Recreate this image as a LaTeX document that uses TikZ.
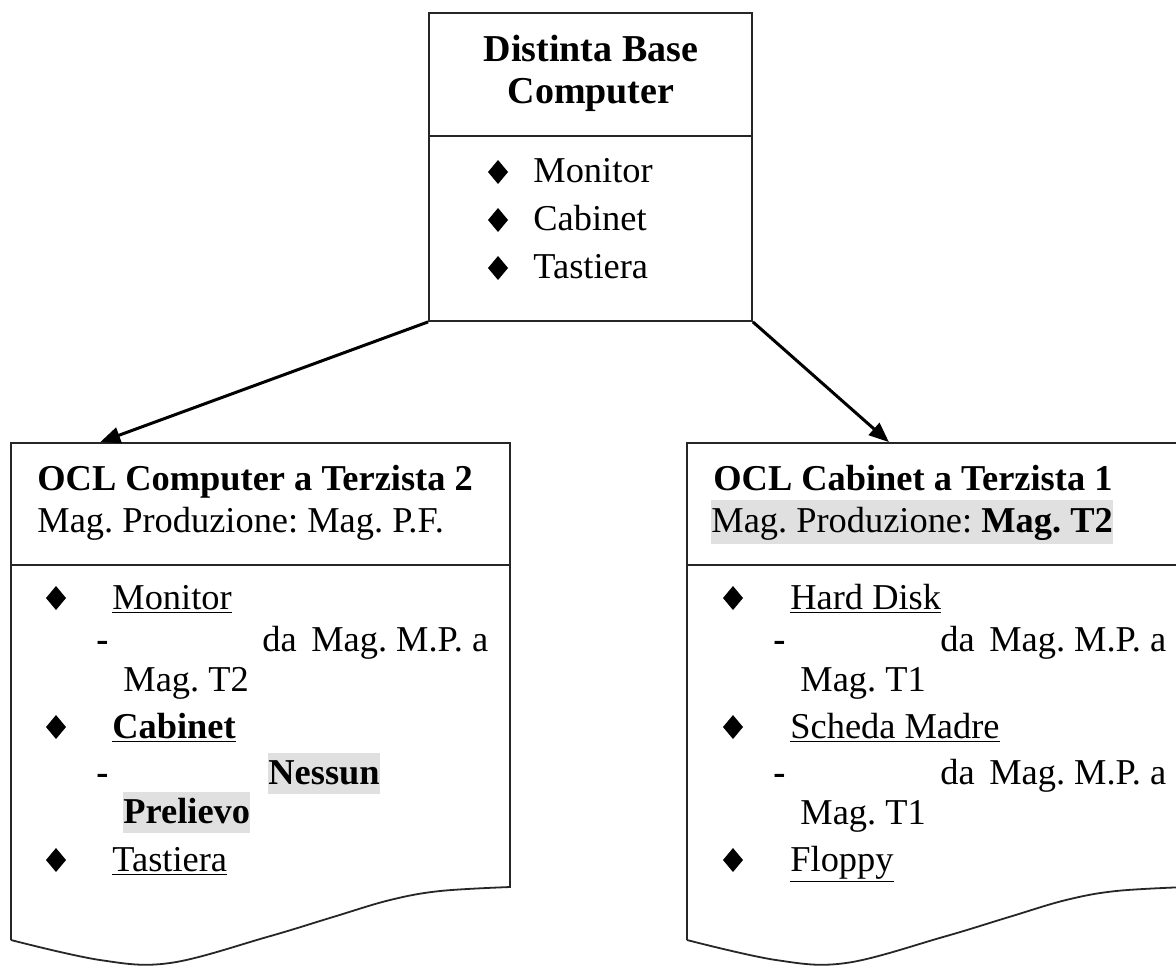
\documentclass[tikz,border=0pt]{standalone}
\usepackage{fontspec}
\setmainfont{Liberation Serif}
\usetikzlibrary{arrows.meta,calc}
\frenchspacing
\begin{document}
\begin{tikzpicture}[x=0.5pt,y=-0.5pt,
  txt/.style={anchor=base west,inner sep=0pt,font=\fontsize{18.2}{22}\selectfont},
  btxt/.style={txt,font=\fontsize{18.2}{22}\selectfont\bfseries},
  ctxt/.style={anchor=base,inner sep=0pt,font=\fontsize{19}{23}\selectfont\bfseries},
  boxline/.style={draw=black!85,line width=0.9pt},
  hl/.style={fill=black!12},
  conn/.style={line width=1.5pt,-{Triangle[length=10pt,width=8pt]}},
  bul/.pic={\fill (-10,0)--(0,-12)--(10,0)--(0,12)--cycle;}
]
\useasboundingbox (0,0) rectangle (1176,965);
\clip (0,0) rectangle (1176,965);

% ---------- top box ----------
\node (tb) [boxline,rectangle,minimum width=161.5pt,minimum height=154pt,inner sep=0pt] at (590.5,167) {};
\draw[boxline] (429,136) -- (752,136);
\node (t1) [ctxt] at (591,61) {Distinta Base};
\node (t2) [ctxt] at (591,103) {Computer};
\pic at (498,172) {bul};
\pic at (498,220) {bul};
\pic at (498,268) {bul};
\node (ti1) [txt] at (533,182) {Monitor};
\node (ti2) [txt] at (533,230) {Cabinet};
\node (ti3) [txt] at (533,278) {Tastiera};

% ---------- left box ----------
\node (lh) [boxline,rectangle,minimum width=249.5pt,minimum height=61pt,inner sep=0pt] at (260.5,504) {};
\draw[boxline] (11,565) -- (11,940)
  plot[smooth,tension=0.6] coordinates {(11,940) (100,960) (170,963) (267,937) (333,917) (390,900) (440,891) (510,887)}
  -- (510,565);
\node (lt1) [btxt] at (37,490) {OCL Computer a Terzista 2};
\node (lt2) [txt] at (37,532) {Mag. Produzione: Mag. P.F.};
\pic at (56,598) {bul};
\pic at (56,727) {bul};
\pic at (56,860) {bul};
\node (l1) [txt] at (112,609) {\underline{Monitor}};
\node (l1a) [btxt] at (96,651) {-};
\node (l1b) [txt] at (262,651) {da\hspace{0.4em}Mag. M.P. a};
\node (l1c) [txt] at (123,691) {Mag. T2};
\node (l2) [btxt] at (112,738) {\underline{Cabinet}};
\node (l2a) [btxt] at (96,784) {-};
\node (l2b) [btxt,hl,text height=15.5pt,text depth=5pt] at (268,784) {Nessun};
\node (l2c) [btxt,hl,text height=15.5pt,text depth=5pt] at (123,823) {Prelievo};
\node (l3) [txt] at (112,871) {\underline{Tastiera}};

% ---------- right box ----------
\node (rh) [boxline,rectangle,minimum width=249.5pt,minimum height=61pt,inner sep=0pt] at (936.5,504) {};
\draw[boxline] (687,565) -- (687,940)
  plot[smooth,tension=0.6] coordinates {(687,940) (776,960) (846,963) (943,937) (1009,917) (1066,900) (1116,891) (1186,887)}
  -- (1186,565);
\node (rt1) [btxt] at (713,490) {OCL Cabinet a Terzista 1};
\node (rt2) [txt,hl,text height=16pt,text depth=6pt] at (711,532) {Mag. Produzione: \textbf{Mag. T2}};
\pic at (733,598) {bul};
\pic at (733,727) {bul};
\pic at (733,860) {bul};
\node (r1) [txt] at (790,609) {\underline{Hard Disk}};
\node (r1a) [btxt] at (773,651) {-};
\node (r1b) [txt] at (940,651) {da\hspace{0.4em}Mag. M.P. a};
\node (r1c) [txt] at (800,691) {Mag. T1};
\node (r2) [txt] at (790,738) {\underline{Scheda Madre}};
\node (r2a) [btxt] at (773,784) {-};
\node (r2b) [txt] at (940,784) {da\hspace{0.4em}Mag. M.P. a};
\node (r2c) [txt] at (800,824) {Mag. T1};
\node (r3) [txt] at (790,871) {\underline{Floppy}};

% ---------- connectors ----------
\draw[conn] (tb.south west) -- ($(lh.north west)!0.18!(lh.north east)$);
\draw[conn] (tb.south east) -- ($(rh.north west)!0.405!(rh.north east)$);
\end{tikzpicture}
\end{document}
